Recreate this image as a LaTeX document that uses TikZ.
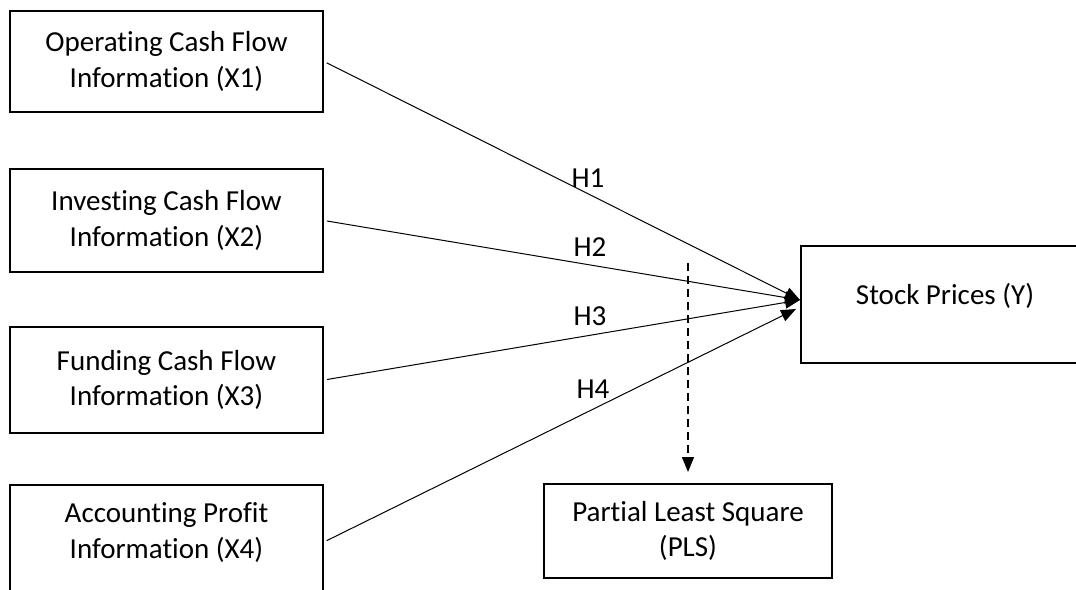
\documentclass[tikz,border=0pt]{standalone}
\usepackage{fontspec}
\setmainfont{Carlito}[Ligatures = {NoCommon, NoContextual}]
\usetikzlibrary{arrows.meta}

\begin{document}
\begin{tikzpicture} [
    x = 1pt, y = -1pt,
    every node/.style = {font = \fontsize{29}{35.5}\selectfont},
    box/.style = {draw, line width = 2pt, minimum width = 313pt, align = center, inner sep = 0pt},
    link/.style = {-{Triangle[length = 15pt, width = 12pt]}, line width = 1pt, shorten < = 3pt},
    dashlink/.style = {-{Triangle[length = 15pt, width = 12pt]}, line width = 1.5pt, dash pattern = on 8pt off 5pt}
]
\useasboundingbox (0,0) rectangle (1076,589);
\clip (0,0) rectangle (1076,589);

% left boxes
\node (x1) at (166.5, 61.5) [box, minimum height = 101pt] {Operating Cash Flow\\Information (X1)};
\node (x2) at (166.5, 220.5) [box, minimum height = 103pt] {Investing Cash Flow\\Information (X2)};
\node (x3) at (166.5, 380) [box, minimum height = 106pt] {Funding Cash Flow\\Information (X3)};
\node (x4) at (166.5, 550) [box, minimum height = 130pt] {};
\node (x4text) at (166.5, 532.5) [align = center] {Accounting Profit\\Information (X4)};

% right boxes
\node (y) at (945, 304.5) [box, minimum width = 288pt, minimum height = 117pt, text height = 12pt, text depth = 12pt] {Stock Prices (Y)};
\node (pls) at (688, 531) [box, minimum width = 288pt, minimum height = 94pt] {Partial Least Square\\(PLS)};

% arrow ends
\coordinate (tip) at (800, 300);
\coordinate (tip4) at (796, 309);
\coordinate (plsin) at (688, 263);

% hypotheses
\draw [link] (x1.east) -- (tip);
\draw [link] (x2.east) -- (tip);
\draw [link] (x3.east) -- (tip);
\draw [link] ([yshift = 8pt] x4.east) -- (tip4);
\draw [dashlink, shorten > = 11pt] (plsin) -- (pls.north);

\node (h1) at (588, 178) {H1};
\node (h2) at (590, 247) {H2};
\node (h3) at (590, 316) {H3};
\node (h4) at (593, 389) {H4};

\end{tikzpicture}
\end{document}
